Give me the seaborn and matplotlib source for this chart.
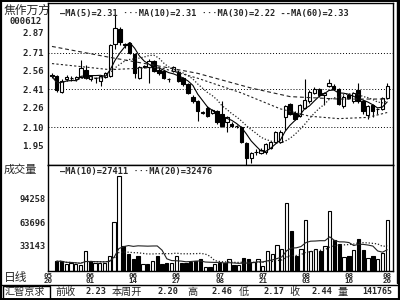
import numpy as np
import pandas as pd
import matplotlib
matplotlib.use("Agg")
import matplotlib.pyplot as plt
from matplotlib.lines import Line2D
from matplotlib.patches import Rectangle
import seaborn as sns

# ---------------- data ----------------
opens = [2.53, 2.52, 2.39, 2.49, 2.50, 2.49, 2.51, 2.57, 2.49, 2.50,
         2.48, 2.51, 2.52, 2.78, 2.90, 2.78, 2.79, 2.70, 2.50, 2.60,
         2.59, 2.64, 2.57, 2.56, 2.49, 2.56, 2.55, 2.50, 2.45, 2.35,
         2.31, 2.22, 2.26, 2.22, 2.23, 2.21, 2.14, 2.13, 2.11, 2.10,
         1.97, 1.85, 1.90, 1.89, 1.90, 1.93, 1.98, 1.98, 2.18, 2.29,
         2.22, 2.19, 2.26, 2.31, 2.38, 2.41, 2.36, 2.44, 2.44, 2.41,
         2.27, 2.36, 2.31, 2.40, 2.31, 2.20, 2.28, 2.25, 2.25, 2.34]
highs = [2.54, 2.53, 2.49, 2.53, 2.52, 2.52, 2.65, 2.61, 2.53, 2.51,
         2.53, 2.55, 2.78, 3.02, 2.92, 2.79, 2.80, 2.71, 2.60, 2.61,
         2.66, 2.65, 2.58, 2.57, 2.50, 2.60, 2.57, 2.51, 2.46, 2.36,
         2.32, 2.23, 2.27, 2.25, 2.24, 2.31, 2.19, 2.14, 2.12, 2.11,
         1.98, 1.90, 1.92, 1.93, 1.97, 1.99, 2.07, 2.08, 2.28, 2.30,
         2.23, 2.29, 2.49, 2.40, 2.43, 2.42, 2.39, 2.49, 2.45, 2.42,
         2.36, 2.37, 2.39, 2.46, 2.32, 2.28, 2.29, 2.26, 2.35, 2.46]
lows = [2.50, 2.39, 2.38, 2.48, 2.48, 2.48, 2.50, 2.49, 2.48, 2.46,
        2.44, 2.50, 2.51, 2.74, 2.77, 2.75, 2.70, 2.50, 2.49, 2.58,
        2.46, 2.55, 2.53, 2.49, 2.47, 2.55, 2.47, 2.44, 2.37, 2.30,
        2.15, 2.21, 2.18, 2.21, 2.13, 2.10, 2.06, 2.10, 2.09, 1.97,
        1.79, 1.81, 1.87, 1.88, 1.88, 1.92, 1.97, 1.97, 2.08, 2.20,
        2.16, 2.18, 2.25, 2.30, 2.37, 2.35, 2.28, 2.43, 2.40, 2.28,
        2.26, 2.33, 2.30, 2.30, 2.21, 2.17, 2.18, 2.21, 2.24, 2.33]
closes = [2.52, 2.40, 2.48, 2.51, 2.50, 2.51, 2.58, 2.50, 2.52, 2.50,
          2.52, 2.54, 2.77, 2.91, 2.80, 2.77, 2.71, 2.54, 2.59, 2.59,
          2.64, 2.56, 2.54, 2.50, 2.49, 2.59, 2.48, 2.45, 2.38, 2.31,
          2.23, 2.22, 2.19, 2.24, 2.14, 2.11, 2.18, 2.11, 2.11, 1.98,
          1.85, 1.89, 1.90, 1.91, 1.96, 1.98, 2.06, 2.06, 2.27, 2.21,
          2.17, 2.28, 2.32, 2.39, 2.41, 2.36, 2.38, 2.46, 2.41, 2.29,
          2.35, 2.34, 2.38, 2.31, 2.23, 2.27, 2.23, 2.25, 2.34, 2.44]
volumes = [12700, 12700, 8500, 10700, 8500, 7200, 25800, 12700, 10700, 10700,
           10700, 19300, 63500, 123000, 33000, 21500, 15000, 20000, 8500, 8500,
           12700, 20000, 8500, 10700, 10000, 19000, 11000, 11000, 12000, 13600,
           15800, 5400, 5400, 8500, 10700, 10700, 15000, 7200, 7200, 17000,
           16000, 11500, 15000, 7000, 25800, 21500, 33600, 28000, 87800, 51800,
           19300, 28000, 66000, 25800, 28000, 25800, 33000, 78600, 40000, 34500,
           18400, 20000, 27000, 41800, 27000, 17000, 20000, 15000, 23600, 66000]

# slow moving averages at a few bars
ma30_bar = [0, 12, 22, 30, 39, 47, 53, 59, 65, 69]
ma30_val = [2.62, 2.57, 2.59, 2.50, 2.38, 2.25, 2.19, 2.17, 2.18, 2.22]
ma60_bar = [0, 12, 22, 30, 41, 49, 59, 69]
ma60_val = [2.76, 2.67, 2.60, 2.54, 2.42, 2.35, 2.33, 2.33]

date_bar = [-1.8, 7, 16, 25, 34, 43, 52, 61, 69]
date_labels = ["05\n20", "06\n01", "06\n14", "06\n27", "07\n08",
               "07\n21", "08\n03", "08\n16", "08\n26"]
price_ticks = [2.87, 2.71, 2.56, 2.41, 2.26, 2.10, 1.95]
grid_prices = [2.71, 2.41, 2.10]
vol_ticks = [94258, 63696, 33143]

# ---------------- style ----------------
sns.set_style("white")
plt.rcParams['font.family'] = ['DejaVu Sans Mono', 'Noto Sans CJK SC']
CJK = ['Noto Sans CJK SC', 'DejaVu Sans']

W, H = 400, 300
fig = plt.figure(figsize=(4, 3), dpi=100)


def rect(x0, y0, x1, y1):
    return [x0 / W, 1 - y1 / H, (x1 - x0) / W, (y1 - y0) / H]


axp = fig.add_axes(rect(48, 3, 393, 165))
axv = fig.add_axes(rect(48, 165, 393, 271))

n = len(closes)
df = pd.DataFrame({"bar": np.arange(n), "open": opens, "high": highs,
                   "low": lows, "close": closes, "volume": volumes})
df["ma5"] = df["close"].rolling(5, min_periods=1).mean()
df["ma10"] = df["close"].rolling(10, min_periods=1).mean()
df["vma10"] = df["volume"].rolling(10, min_periods=1).mean()
df["vma20"] = df["volume"].rolling(20, min_periods=1).mean()
up = df["close"] >= df["open"]
xlim = (-0.82, 70.2)

# ---------------- price panel ----------------
axp.vlines(df["bar"], df["low"], df["high"], color="black", lw=0.8, zorder=2)
body_lo = np.minimum(df["open"], df["close"])
body_h = np.maximum(np.abs(df["close"] - df["open"]), 0.001)
axp.bar(df["bar"], body_h, bottom=body_lo, width=0.68,
        color=np.where(up, "white", "black"), edgecolor="black", linewidth=0.8, zorder=3)

sns.lineplot(x=df["bar"], y=df["ma5"], ax=axp, color="black", lw=0.8, zorder=4)
sns.lineplot(x=df["bar"], y=df["ma10"], ax=axp, color="#222222", lw=0.9,
             linestyle=(0, (1, 1.5)), zorder=4)
sns.lineplot(x=ma30_bar, y=ma30_val, ax=axp, color="#222222", lw=0.8,
             linestyle=(0, (2, 2)), zorder=4)
sns.lineplot(x=ma60_bar, y=ma60_val, ax=axp, color="#222222", lw=0.8,
             linestyle=(0, (3.5, 2.5)), zorder=4)

for g in grid_prices:
    axp.axhline(g, color="black", lw=0.7, linestyle=(0, (1, 2)), zorder=1)

axp.set_xlim(*xlim)
axp.set_ylim(1.791, 3.115)
axp.set_yticks(price_ticks)
axp.set_yticklabels([f"{t:.2f}" for t in price_ticks], fontsize=6.5, fontweight="bold")
axp.set_xticks([])
axp.tick_params(axis="y", length=0, pad=3)
axp.set_xlabel("")
axp.set_ylabel("")
axp.text(0.035, 0.938, "—MA(5)=2.31 ···MA(10)=2.31 ···MA(30)=2.22 --MA(60)=2.33",
         transform=axp.transAxes, fontsize=6.2, fontweight="bold", va="center", ha="left")

# ---------------- volume panel ----------------
axv.bar(df["bar"], df["volume"], width=0.68,
        color=np.where(up, "white", "black"), edgecolor="black", linewidth=0.8, zorder=2)
sns.lineplot(x=df["bar"], y=df["vma10"], ax=axv, color="#222222", lw=0.8, zorder=3)
sns.lineplot(x=df["bar"], y=df["vma20"], ax=axv, color="#222222", lw=0.9,
             linestyle=(0, (1, 1.5)), zorder=3)
axv.set_xlim(*xlim)
axv.set_ylim(0, 137800)
axv.set_yticks(vol_ticks)
axv.set_yticklabels([str(v) for v in vol_ticks], fontsize=6.2, fontweight="bold")
axv.set_xticks(date_bar)
axv.set_xticklabels(date_labels, fontsize=5.4, fontweight="bold", linespacing=0.82)
axv.tick_params(axis="x", length=0, pad=1.4)
axv.tick_params(axis="y", length=0, pad=1.5)
axv.set_xlabel("")
axv.set_ylabel("")
axv.text(0.035, 0.934, "—MA(10)=27411 ···MA(20)=32476",
         transform=axv.transAxes, fontsize=6.2, fontweight="bold", va="center", ha="left")

for ax in (axp, axv):
    for s in ax.spines.values():
        s.set_color("black")
        s.set_linewidth(1.0)

# ---------------- frame & side texts ----------------
def fline(x0, y0, x1, y1, lw=1.0):
    fig.add_artist(Line2D([x0 / W, x1 / W], [1 - y0 / H, 1 - y1 / H],
                          color="black", lw=lw, transform=fig.transFigure))

fline(1, 0.5, 1, 299.5, lw=1.6)
fline(0, 0.8, 399, 0.8, lw=1.4)
fline(397, 0, 397, 283, lw=1.0)
fline(399, 0, 399, 300, lw=1.6)
fline(0, 284.5, 399, 284.5, lw=1.0)
fline(0, 299.3, 399, 299.3, lw=1.4)
fig.add_artist(Rectangle((3 / W, 1 - 298.5 / H), 47 / W, 13 / H, transform=fig.transFigure,
                         fill=False, edgecolor="black", lw=1.0))

def ftext(x, y, s, cjk=False, **kw):
    fam = CJK if cjk else ['DejaVu Sans Mono', 'Noto Sans CJK SC']
    fig.text(x / W, 1 - y / H, s, family=fam, va="center", **kw)

ftext(4, 10, "焦作万方", cjk=True, fontsize=8.5)
ftext(9, 22, "000612", fontsize=6.5, fontweight="bold")
ftext(4, 170, "成交量", cjk=True, fontsize=8)
ftext(4, 277, "日线", cjk=True, fontsize=8.5)

BY = 292
ftext(5, BY, "汇智京求", cjk=True, fontsize=7.3)
ftext(55, BY, "前收", cjk=True, fontsize=7.3)
ftext(86, BY, "2.23", fontsize=6.2, fontweight="bold")
ftext(112, BY, "本周开", cjk=True, fontsize=7.3)
ftext(157, BY, "2.20", fontsize=6.2, fontweight="bold")
ftext(187, BY, "高", cjk=True, fontsize=7.3)
ftext(212, BY, "2.46", fontsize=6.2, fontweight="bold")
ftext(239, BY, "低", cjk=True, fontsize=7.3)
ftext(263, BY, "2.17", fontsize=6.2, fontweight="bold")
ftext(289, BY, "收", cjk=True, fontsize=7.3)
ftext(312, BY, "2.44", fontsize=6.2, fontweight="bold")
ftext(337, BY, "量", cjk=True, fontsize=7.3)
ftext(362, BY, "141765", fontsize=6.0, fontweight="bold")

fig.savefig("out.png", dpi=100)
